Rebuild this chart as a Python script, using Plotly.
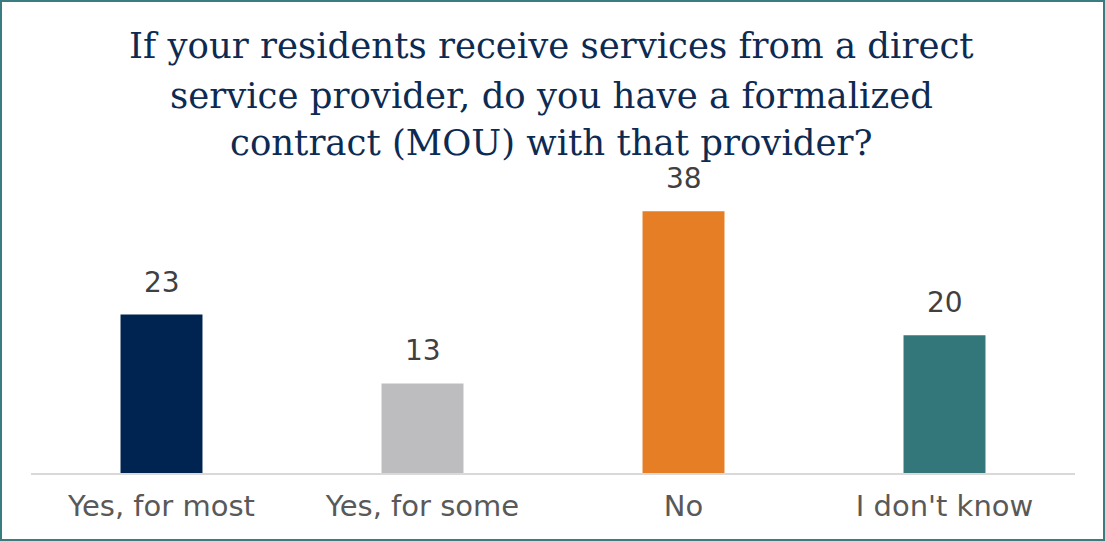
import plotly.graph_objects as go

categories = ["Yes, for most", "Yes, for some", "No", "I don't know"]
values = [23, 13, 38, 20]
colors = ["#002451", "#BDBDBF", "#E57E25", "#33777B"]
title_lines = [
    "If your residents receive services from a direct",
    "service provider, do you have a formalized",
    "contract (MOU) with that provider?",
]

W, H = 1105, 541
ml, mr, mt, mb = 31, 30, 190, 68
pw, ph = W - ml - mr, H - mt - mb
ymax = 41.07

fig = go.Figure(go.Bar(
    x=categories, y=values, marker_color=colors, marker_line_width=0,
    hoverinfo="skip",
))

for c, v in zip(categories, values):
    fig.add_annotation(x=c, y=v, text=str(v), showarrow=False, yanchor="bottom",
                       yshift=14, font=dict(family="DejaVu Sans", size=28, color="#404040"))

title_y = [46, 95, 143]
for t, yc in zip(title_lines, title_y):
    fig.add_annotation(xref="paper", yref="paper", x=(W / 2 - ml - 1) / pw,
                       y=1 + (mt - yc) / ph, text=t, showarrow=False,
                       xanchor="center", yanchor="middle",
                       font=dict(family="DejaVu Serif", size=35.5, color="#0D2B52"))

fig.add_shape(type="rect", xref="paper", yref="paper",
              x0=-(ml - 1) / pw, x1=1 + (mr - 1) / pw,
              y0=-(mb - 1) / ph, y1=1 + (mt - 1) / ph,
              line=dict(color="#3A7D80", width=2), layer="above")

fig.update_layout(
    width=W, height=H, margin=dict(l=ml, r=mr, t=mt, b=mb),
    paper_bgcolor="white", plot_bgcolor="white", bargap=0.686,
    showlegend=False,
    xaxis=dict(showline=True, linecolor="#D9D9D9", linewidth=2, ticks="",
               tickfont=dict(family="DejaVu Sans", size=29, color="#595959"),
               ticklabelstandoff=6, showgrid=False),
    yaxis=dict(range=[0, ymax], visible=False, showgrid=False),
)

fig.write_html("out.html", config={"displayModeBar": False})
